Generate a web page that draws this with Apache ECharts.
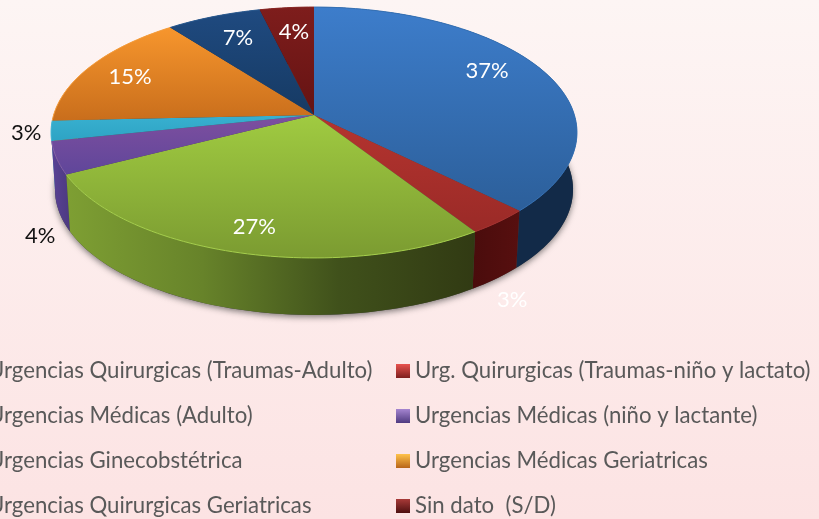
<!DOCTYPE html>
<html>

<head>
    <meta charset="utf-8">
    <script src="https://cdn.jsdelivr.net/npm/echarts@6/dist/echarts.min.js"></script>
    <style>
        html, body { margin: 0; padding: 0; }
    </style>
</head>

<body>
    <div id="main" style="width: 819px;height:519px;"></div>
    <script type="text/javascript">
        // data (the labels round these)
        var categories = [
            'Urgencias Quirurgicas (Traumas-Adulto)',
            'Urg. Quirurgicas (Traumas-niño y lactato)',
            'Urgencias Médicas (Adulto)',
            'Urgencias Médicas (niño y lactante)',
            'Urgencias Ginecobstétrica',
            'Urgencias Médicas Geriatricas',
            'Urgencias Quirurgicas Geriatricas',
            'Sin dato  (S/D)'
        ];
        var values = [37.4, 3.4, 26.7, 4.2, 2.6, 15.2, 6.7, 3.8];

        // colours of each slice
        var topColors = [
            ['#3d7dcb', '#2c5f9a'], ['#b5342f', '#9a2a27'], ['#a0cb41', '#7b9b31'], ['#7e4f9f', '#5f469a'],
            ['#38b0d0', '#2ea3c4'], ['#f7962d', '#c96e1c'], ['#1f4a80', '#163a63'], ['#7e1d1c', '#651313']
        ];
        var wallColors = [
            ['#122a48', '#122a48'], ['#4a0c0c', '#570f0f'], ['#7e9f33', '#67832a', '#40511b', '#313a13'], ['#5a4296', '#4c3a80'],
            ['#2a8da8', '#2a8da8'], ['#a8590f', '#a8590f'], ['#122a48', '#122a48'], ['#4a0c0c', '#4a0c0c']
        ];
        var rimColors = ['#3571b5', '#a83230', '#a6d04c', '#8360a8', '#45b8d6', '#f7a040', '#2a5a90', '#8a2624'];
        var legendColors = [
            ['#e8524e', '#7e1f1e'], ['#e8524e', '#7e1f1e'], ['#a585d0', '#4f3a80'], ['#a585d0', '#4f3a80'],
            ['#ffc24a', '#b8651a'], ['#ffc24a', '#b8651a'], ['#a83a38', '#4e1010'], ['#a83a38', '#4e1010']
        ];
        var labelColors = ['#fff', '#fff', '#fff', '#111', '#111', '#fff', '#fff', '#fff'];
        // label distance from the centre (1 = rim) and turn from the slice middle, in degrees
        var labelRadius = [0.794, 1.393, 0.833, 1.267, 1.093, 0.806, 0.757, 0.75];
        var labelShift = [-5.6, 12.4, -0.8, -23.7, -0.3, -1.2, 0.7, 0.3];

        var total = values.reduce(function (a, b) { return a + b; }, 0);
        var cum = [0];
        values.forEach(function (v, i) { cum.push(cum[i] + v); });

        // tilted disc seen in perspective
        var cx = 314, cy = 115, ax = 260.4, ay = 123, k = 0.1394;

        function project(deg, r) {
            var a = deg * Math.PI / 180;
            var u = Math.sin(a) * r, v = -Math.cos(a) * r;
            var w = 1 - k * v;
            return [cx + ax * u / w, cy + ay * v / w, v];
        }
        function rimTop(deg) {
            return project(deg, 1);
        }
        function rimBottom(deg) {
            var p = project(deg, 1);
            return [cx + (p[0] - cx) * 0.985, p[1] + 57];
        }
        function arc(fn, from, to) {
            var pts = [], n = Math.max(2, Math.ceil(Math.abs(to - from) / 1.5));
            for (var i = 0; i <= n; i++) {
                pts.push(fn(from + (to - from) * i / n).slice(0, 2));
            }
            return pts;
        }
        function grad(colors, horizontal) {
            var stops = colors.map(function (c, i) {
                return { offset: i / (colors.length - 1), color: c };
            });
            return new echarts.graphic.LinearGradient(0, 0, horizontal ? 1 : 0, horizontal ? 0 : 1, stops);
        }

        function sliceRenderer(i) {
            return function () {
                var from = cum[i] / total * 360, to = cum[i + 1] / total * 360, mid = (from + to) / 2;
                var top = arc(rimTop, from, to);
                var bottom = arc(rimBottom, from, to);
                var lp = project(mid + labelShift[i], labelRadius[i]);
                var children = [];
                if (i === 0) {
                    // soft shadow under the whole cake
                    children.push({
                        type: 'polygon', z2: 0,
                        shape: { points: arc(rimBottom, 0, 360) },
                        style: { fill: '#444', shadowBlur: 6, shadowColor: 'rgba(40,40,40,0.6)', shadowOffsetY: 2 }
                    });
                }
                children.push({
                    type: 'polygon', z2: 10 + project(mid, 1)[2] * 5,
                    shape: { points: top.concat(bottom.slice().reverse()) },
                    style: { fill: grad(wallColors[i], true) }
                });
                children.push({
                    type: 'polygon', z2: 20,
                    shape: { points: [[cx, cy]].concat(top) },
                    style: { fill: grad(topColors[i], false) }
                });
                children.push({
                    type: 'polyline', z2: 21,
                    shape: { points: top },
                    style: { fill: null, stroke: rimColors[i], lineWidth: 1 }
                });
                children.push({
                    type: 'text', z2: 30,
                    x: lp[0], y: lp[1],
                    style: {
                        text: Math.round(values[i]) + '%',
                        fill: labelColors[i],
                        font: '22px Lato',
                        align: 'center',
                        verticalAlign: 'middle'
                    }
                });
                return { type: 'group', children: children };
            };
        }

        function legendOf(indexes, left) {
            return {
                orient: 'vertical',
                left: left,
                top: 360,
                padding: 0,
                itemWidth: 14,
                itemHeight: 14,
                itemGap: 23,
                selectedMode: false,
                textStyle: { color: '#595959', fontFamily: 'Lato', fontSize: 22.2, lineHeight: 22 },
                data: indexes.map(function (i) {
                    return {
                        name: categories[i],
                        icon: 'rect',
                        itemStyle: { color: grad(legendColors[i], false) }
                    };
                })
            };
        }

        var myChart = echarts.init(document.getElementById('main'));
        var option = {
            animation: false,
            backgroundColor: new echarts.graphic.LinearGradient(0, 0, 0, 1, [
                { offset: 0, color: '#fdf5f4' },
                { offset: 1, color: '#fce3e3' }
            ]),
            legend: [legendOf([0, 2, 4, 6], -31), legendOf([1, 3, 5, 7], 396)],
            series: categories.map(function (name, i) {
                return {
                    name: name,
                    type: 'custom',
                    coordinateSystem: 'none',
                    silent: true,
                    renderItem: sliceRenderer(i),
                    data: [values[i]]
                };
            })
        };
        myChart.setOption(option);
    </script>
</body>

</html>
